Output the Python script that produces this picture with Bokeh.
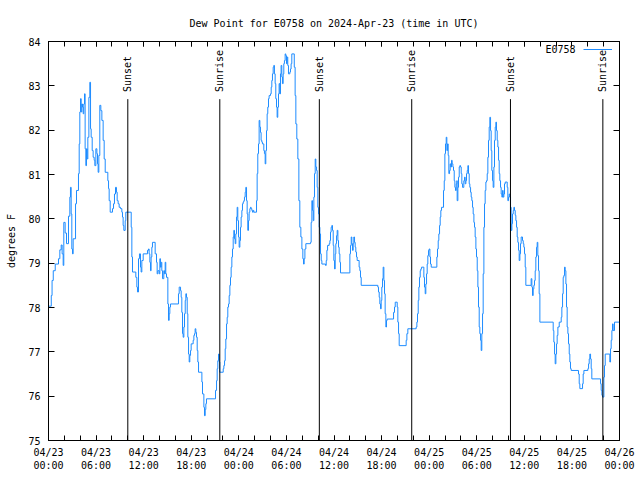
import math
from bokeh.plotting import figure
from bokeh.models import (Range1d, FixedTicker, LinearAxis, Legend, LegendItem,
                          Label, ColumnDataSource)
from bokeh.core.properties import value
from bokeh.embed import file_html
from bokeh.resources import INLINE

# ---------------- data ----------------
station = "E0758"
title_text = "Dew Point for E0758 on 2024-Apr-23 (time in UTC)"

# hours since 2024-04-23 00:00 UTC
hours = [
    0.00, 0.35, 0.45, 0.60, 0.85, 1.26, 1.43, 1.60, 1.72, 1.85, 1.93, 2.10, 2.27, 2.52, 2.69,
    2.77, 2.86, 2.94, 3.03, 3.11, 3.41, 3.53, 3.78, 3.87, 3.95, 4.04, 4.12, 4.20, 4.29, 4.37,
    4.45, 4.54, 4.62, 4.71, 4.79, 4.88, 4.96, 5.09, 5.21, 5.30, 5.38, 5.51, 5.63, 5.76, 5.84,
    5.97, 6.10, 6.18, 6.26, 6.35, 6.47, 6.60, 6.73, 6.89, 7.02, 7.15, 7.48, 7.57, 7.65, 7.78,
    8.07, 8.20, 8.32, 8.45, 8.57, 8.66, 8.78, 8.91, 9.08, 9.25, 9.33, 9.41, 9.50, 9.67, 9.75,
    10.43, 10.51, 10.59, 11.01, 11.14, 11.22, 11.35, 11.47, 11.60, 11.68, 11.77, 11.94, 12.48,
    12.61, 12.69, 12.78, 12.86, 12.94, 13.03, 13.11, 13.45, 13.62, 13.70, 13.79, 13.96, 14.04,
    14.12, 14.21, 14.29, 14.38, 14.54, 14.63, 14.71, 14.79, 14.88, 15.05, 15.13, 15.22, 15.30,
    15.38, 16.39, 16.48, 16.65, 16.73, 16.81, 16.90, 16.98, 17.07, 17.15, 17.24, 17.32, 17.40,
    17.49, 17.57, 17.66, 17.74, 17.82, 17.91, 17.99, 18.24, 18.33, 18.41, 18.49, 18.58, 18.66,
    18.75, 18.83, 18.92, 19.34, 19.42, 19.59, 19.67, 19.76, 19.84, 19.92,
    21.06, 21.19, 21.27, 21.35, 21.44, 21.52, 21.60, 22.03, 22.11, 22.20, 22.28, 22.36, 22.45,
    22.53, 22.61, 22.70, 22.78, 22.87, 22.95, 23.03, 23.12, 23.20, 23.29, 23.37, 23.45, 23.54,
    23.62, 23.71, 23.79, 23.87, 23.96, 24.04, 24.13, 24.21, 24.29, 24.38, 24.46, 24.55, 24.63,
    24.71, 24.80, 24.88, 24.97, 25.05, 25.13, 25.22, 25.30, 25.39, 25.47, 25.55, 25.64, 25.72,
    25.81, 25.89, 26.23, 26.31, 26.39, 26.48, 26.56, 26.65, 26.73, 26.81, 26.90, 26.98, 27.15,
    27.23, 27.32, 27.40, 27.49, 27.57, 27.65, 27.74, 27.82, 27.99, 28.08, 28.16, 28.24, 28.33,
    28.41, 28.49, 28.58, 28.66, 28.75, 28.83, 28.91, 29.00, 29.08, 29.17, 29.25, 29.33, 29.42,
    29.50, 29.59, 29.67, 29.75, 29.84, 29.92, 30.01, 30.09, 30.17, 30.26, 30.43, 30.51, 30.59,
    30.68, 30.99, 31.10, 31.19, 31.31, 31.44, 31.57, 31.69, 31.82, 31.95, 32.07, 32.16, 32.24,
    32.33, 32.45, 33.04, 33.12, 33.21, 33.29, 33.38, 33.46, 33.54, 33.63, 33.71, 33.80, 33.88,
    33.96, 34.05, 34.13, 34.22, 34.30, 34.39, 34.47, 34.93, 35.02, 35.10, 35.19, 35.39, 35.48,
    35.56, 35.64, 35.73, 35.81, 35.90, 35.98, 36.07, 36.15, 36.23, 36.32, 36.40, 36.49, 36.57,
    36.65, 36.74, 36.82, 38.00, 38.08, 38.17, 38.25, 38.33, 38.42, 38.50, 38.59, 38.67, 38.75,
    38.84, 38.92, 39.17, 39.26, 39.34, 39.43,
    41.53, 41.61, 41.70, 41.78, 41.87, 41.95, 42.03, 42.12, 42.20, 42.29, 42.37, 42.45, 42.54,
    42.62, 42.71, 43.51, 43.63, 43.72, 43.97, 44.05, 44.14, 44.22, 45.10, 45.19, 45.31, 46.36,
    46.45, 46.53, 46.62, 46.70, 46.78, 46.87, 46.95, 47.04, 47.33, 47.41, 47.50, 47.58, 47.67,
    47.75, 47.83, 47.92, 48.00, 48.09, 48.17, 48.26, 48.97, 49.05, 49.14, 49.22, 49.31, 49.39,
    49.47, 49.56, 49.81, 49.90, 49.98, 50.06, 50.15, 50.23, 50.31, 50.40, 50.48, 50.57, 50.65,
    50.73, 50.82, 50.90, 50.99, 51.07, 51.16, 51.24, 51.32, 51.41, 51.49,
    51.53, 51.62, 51.70, 51.79, 51.87, 51.95, 52.04, 52.12, 52.21, 52.37, 52.46, 52.54, 52.63,
    52.71, 52.80, 52.88, 52.96, 53.05, 53.13, 53.22, 53.30, 53.38, 53.47, 53.55, 53.64, 53.72,
    53.80, 53.89, 53.97, 54.06, 54.14, 54.22, 54.31, 54.39, 54.48, 54.56, 54.64, 54.73, 54.81,
    54.90, 54.98, 55.06, 55.15, 55.23, 55.32, 55.40, 55.48, 55.57, 55.65, 55.74, 55.82, 55.90,
    55.99, 56.07, 56.16, 56.24, 56.33, 56.41, 56.49, 56.58, 56.66, 56.75, 56.83, 56.91, 57.00,
    57.08, 57.17, 57.25, 57.33, 57.42, 57.50, 57.59, 57.84, 57.92, 58.01, 58.09, 58.17, 58.26,
    58.34, 58.43, 58.51, 58.60, 58.68, 58.76, 58.85, 58.93, 59.02, 59.10, 59.18, 59.27, 59.35,
    59.44, 59.52, 59.60, 59.77, 59.86, 59.94, 60.02, 60.11, 60.19, 60.86, 60.95, 61.03, 61.12,
    61.20, 61.28, 61.37, 61.45, 61.54, 61.62, 61.70, 61.79, 61.87, 61.96,
    63.64, 63.72, 63.81, 63.89, 63.98, 64.06, 64.14, 64.23, 64.40, 64.65, 64.73, 64.82, 64.90,
    64.98, 65.07, 65.15, 65.24, 65.32, 65.40, 65.49, 65.57, 65.66, 65.74, 65.82, 65.91, 66.83,
    66.92, 67.00, 67.34, 67.42, 67.51, 68.01, 68.10, 68.18, 68.26, 68.35, 68.43, 68.51, 69.61,
    69.69, 69.78, 69.86, 70.03, 70.11, 70.20, 70.78, 70.87, 70.95, 71.04, 71.12, 71.20, 71.37,
    72.00,
]

dewpoint_f = [
    78.03, 78.27, 78.61, 78.83, 78.98, 79.10, 79.30, 79.41, 79.21, 78.95, 79.92, 79.68, 79.44, 80.06, 80.49,
    80.71, 80.11, 79.32, 79.21, 79.55, 80.34, 80.64, 81.02, 81.69, 82.41, 82.71, 82.41, 82.59, 82.52, 82.37,
    82.59, 82.82, 81.58, 81.20, 81.58, 81.35, 81.84, 82.74, 83.08, 82.03, 81.84, 81.54, 81.39, 81.32, 81.20,
    81.58, 81.47, 81.24, 81.05, 81.43, 82.56, 82.44, 82.22, 81.77, 81.35, 81.05, 80.86, 80.68, 80.41, 80.15,
    80.23, 80.34, 80.56, 80.71, 80.60, 80.41, 80.34, 80.26, 80.23, 80.15, 80.04, 79.85, 79.74, 79.96, 80.15,
    79.81, 79.14, 78.80, 78.68, 78.46, 78.35, 79.10, 79.21, 78.91, 78.80, 79.06, 79.21, 79.29,
    79.32, 79.21, 79.02, 78.83, 79.14, 79.36, 79.47, 79.21, 79.02, 78.76, 78.83, 78.76, 79.10,
    78.91, 79.02, 78.83, 78.65, 78.83, 78.76, 79.02, 78.76, 78.68, 78.08, 77.71, 77.86, 78.01,
    78.08, 78.31, 78.46, 78.38, 78.23, 77.89, 77.41, 77.33, 77.56, 77.86, 78.16, 78.31, 78.23,
    77.86, 77.33, 76.95, 76.77, 76.92, 77.03, 77.18, 77.26, 77.37, 77.41, 77.52, 77.44, 77.33,
    77.03, 76.77, 76.54, 76.32, 76.05, 75.75, 75.56, 75.70, 75.83, 75.94,
    76.13, 76.35, 76.62, 76.80, 76.95, 76.77, 76.54, 76.62, 76.69, 76.80, 77.07, 77.29, 77.63,
    77.78, 78.01, 78.08, 78.27, 78.50, 78.68, 78.91, 79.14, 79.32, 79.59, 79.74, 79.55, 79.44,
    79.66, 80.04, 80.26, 79.96, 79.59, 79.36, 79.51, 79.81, 80.04, 80.19, 80.34, 80.38, 80.41,
    80.49, 80.60, 80.71, 80.41, 80.11, 79.74, 79.96, 80.15, 80.23, 80.26, 80.23, 80.19, 80.15,
    80.19, 80.15, 80.41, 81.02, 81.47, 81.69, 82.22, 82.07, 81.95, 81.77, 81.73, 81.69, 81.54,
    81.47, 81.24, 81.54, 81.99, 82.37, 82.52, 82.71, 82.78, 82.82, 82.97, 83.12, 83.27, 83.42,
    83.46, 83.27, 83.05, 82.71, 82.52, 82.29, 82.52, 82.82, 83.05, 82.82, 83.27, 83.46, 83.20,
    83.05, 83.27, 83.50, 83.57, 83.72, 83.68, 83.50, 83.65, 83.46, 83.27, 83.31, 83.38, 83.50,
    83.72, 83.42, 82.78, 82.14, 81.80, 81.35, 80.41, 79.81, 79.59, 79.32, 79.10, 78.98, 79.10,
    79.32, 79.44, 79.47, 79.92, 80.41, 80.19, 79.96, 80.49, 81.02, 81.35, 81.17, 81.09, 80.71,
    80.26, 80.11, 79.81, 79.66, 79.21, 79.06, 78.98, 78.95, 79.06, 79.29, 79.40, 79.44, 79.51,
    79.70, 79.81, 79.85, 79.74, 79.40, 79.06, 78.87, 79.21, 79.44, 79.62, 79.74, 79.51, 79.36,
    79.21, 79.02, 78.78, 79.21, 79.40, 79.59, 79.44, 79.29, 79.44, 79.59, 79.47, 79.36, 79.25,
    79.14, 79.06, 78.91, 78.83, 78.68, 78.50,
    78.46, 78.35, 78.23, 78.08, 77.97, 78.16, 78.46, 78.65, 78.91, 78.61, 78.31, 77.86, 77.56,
    77.71, 77.74, 77.89, 78.01, 78.12, 78.01, 77.67, 77.41, 77.14, 77.26, 77.41, 77.52, 77.56,
    77.67, 77.86, 78.16, 78.46, 78.68, 78.83, 78.87, 78.91, 78.68, 78.46, 78.31, 78.53, 78.76,
    78.98, 79.17, 79.29, 79.32, 79.14, 78.98, 78.91, 79.14, 79.32, 79.51, 79.66, 79.85, 80.04,
    80.19, 80.26, 80.64, 80.86, 81.47, 81.69, 81.84, 81.54, 81.69, 81.43, 81.02, 81.09, 81.24,
    81.17, 81.32, 81.24, 81.17, 81.09, 80.86, 80.71, 80.64, 80.79, 80.86,
    80.41, 80.71, 80.94, 81.17, 81.20, 81.17, 81.02, 80.79, 80.71, 80.86, 80.94, 80.79, 80.86,
    81.02, 81.09, 81.20, 81.02, 80.79, 80.71, 80.60, 80.49, 80.41, 80.26, 80.11, 79.92, 79.81,
    79.59, 79.32, 79.14, 78.83, 78.46, 78.01, 77.56, 77.41, 77.26, 77.03, 77.41, 77.86, 78.76,
    79.81, 80.34, 80.64, 80.83, 80.86, 81.02, 81.39, 81.77, 82.07, 82.29, 81.99, 81.54, 81.09,
    80.86, 80.71, 81.17, 81.77, 82.07, 82.18, 81.99, 81.77, 81.62, 81.32, 81.02, 80.86, 80.71,
    80.56, 80.49, 80.64, 80.49, 80.56, 80.79, 80.83, 80.71, 80.41, 80.49, 80.56, 80.49, 80.26,
    79.74, 79.89, 80.11, 80.19, 80.26, 80.19, 80.08, 79.96, 79.81, 79.59, 79.47, 79.29, 79.06,
    79.21, 79.44, 79.59, 79.51, 79.44, 79.36, 79.21, 78.91, 78.50, 78.65, 78.46, 78.27, 78.42,
    78.50, 78.61, 78.83, 79.14, 79.36, 79.47, 79.17, 78.83, 78.31, 77.67,
    77.48, 77.22, 76.95, 76.73, 76.95, 77.18, 77.37, 77.56, 77.67, 77.78, 78.01, 78.31, 78.68,
    78.72, 78.91, 78.83, 78.53, 78.01, 77.56, 77.41, 77.18, 76.95, 76.77, 76.62, 76.58, 76.50,
    76.28, 76.17, 76.28, 76.50, 76.58, 76.62, 76.73, 76.84, 76.95, 76.84, 76.62, 76.39, 76.28,
    76.13, 76.02, 75.98, 76.43, 76.69, 76.95, 76.77, 77.07, 77.26, 77.48, 77.63, 77.48, 77.67,
    77.67,
]

event_hours = [10.0, 21.6, 34.15, 45.8, 58.25, 69.9]
event_labels = ["Sunset", "Sunrise", "Sunset", "Sunrise", "Sunset", "Sunrise"]

tick_hours = [0, 6, 12, 18, 24, 30, 36, 42, 48, 54, 60, 66, 72]
tick_labels = ["04/23\n00:00", "04/23\n06:00", "04/23\n12:00", "04/23\n18:00",
               "04/24\n00:00", "04/24\n06:00", "04/24\n12:00", "04/24\n18:00",
               "04/25\n00:00", "04/25\n06:00", "04/25\n12:00", "04/25\n18:00",
               "04/26\n00:00"]
minor_tick_hours = list(range(0, 73, 2))
y_ticks = [75, 76, 77, 78, 79, 80, 81, 82, 83, 84]

# ---------------- styling ----------------
FONT = "DejaVu Sans Mono"
FS = "10px"
LINE_COLOR = "#1e8cff"
MARKER_TOP = 82.7

p = figure(width=640, height=480, output_backend="svg", toolbar_location=None,
           x_range=Range1d(0, 72), y_range=Range1d(75, 84),
           x_axis_type=None, y_axis_type=None,
           min_border_left=48, min_border_right=21, min_border_top=41, min_border_bottom=40)
p.title.text = title_text
p.title.align = "center"
p.title.text_font = FONT
p.title.text_font_size = FS
p.title.text_font_style = "normal"
p.title.text_color = "black"
p.title.standoff = 25
p.outline_line_color = "black"
p.outline_line_width = 1
p.background_fill_color = "white"
p.border_fill_color = "white"

xticker = FixedTicker(ticks=tick_hours, minor_ticks=minor_tick_hours)
yticker = FixedTicker(ticks=y_ticks, minor_ticks=[])


def style_axis(ax, labels=True):
    ax.axis_line_color = "black"
    ax.major_tick_in = 5
    ax.major_tick_out = 0
    ax.minor_tick_in = 5
    ax.minor_tick_out = 0
    ax.major_tick_line_color = "black"
    ax.minor_tick_line_color = "black"
    ax.major_label_text_font = FONT
    ax.major_label_text_font_size = FS
    ax.major_label_text_color = "black" if labels else None
    ax.axis_label_text_font = FONT
    ax.axis_label_text_font_size = FS
    ax.axis_label_text_font_style = "normal"
    ax.axis_label_text_color = "black"


xb = LinearAxis(ticker=xticker,
                major_label_overrides={h: lab for h, lab in zip(tick_hours, tick_labels)})
style_axis(xb)
xb.major_label_standoff = 6
p.add_layout(xb, "below")

xt = LinearAxis(ticker=xticker)
style_axis(xt, labels=False)
xt.major_label_standoff = 0
p.add_layout(xt, "above")

yl = LinearAxis(ticker=yticker, axis_label="degrees F")
style_axis(yl)
yl.major_tick_in = 6
yl.major_label_standoff = 8
yl.axis_label_standoff = 8
p.add_layout(yl, "left")

yr = LinearAxis(ticker=yticker)
style_axis(yr, labels=False)
yr.major_tick_in = 6
yr.major_label_standoff = 0
p.add_layout(yr, "right")

src = ColumnDataSource(data=dict(t=hours, v=dewpoint_f))
r = p.step(x="t", y="v", source=src, mode="after", line_color=LINE_COLOR, line_width=1)

ev = ColumnDataSource(data=dict(h=event_hours, lab=event_labels))
p.segment(x0="h", y0=75, x1="h", y1=MARKER_TOP, source=ev, line_color="black", line_width=1)
p.text(x="h", y=82.86, text="lab", source=ev, angle=math.pi / 2,
       text_align="left", text_baseline="middle",
       text_font=value(FONT), text_font_size=value(FS), text_color="black")

legend = Legend(items=[LegendItem(label=value(station), renderers=[r])],
                location="top_right", margin=0, padding=0, spacing=0,
                glyph_width=29, glyph_height=16, label_width=7, label_height=16,
                label_standoff=0, border_line_color=None, background_fill_alpha=0,
                label_text_color=None, label_text_font=FONT, label_text_font_size="1px")
p.add_layout(legend, "center")

p.add_layout(Label(x=66.45, y=83.82, text=station, text_align="right",
                   text_baseline="middle", text_font=FONT, text_font_size=FS,
                   text_color="black"))

open("out.html", "w").write(file_html(p, INLINE))
